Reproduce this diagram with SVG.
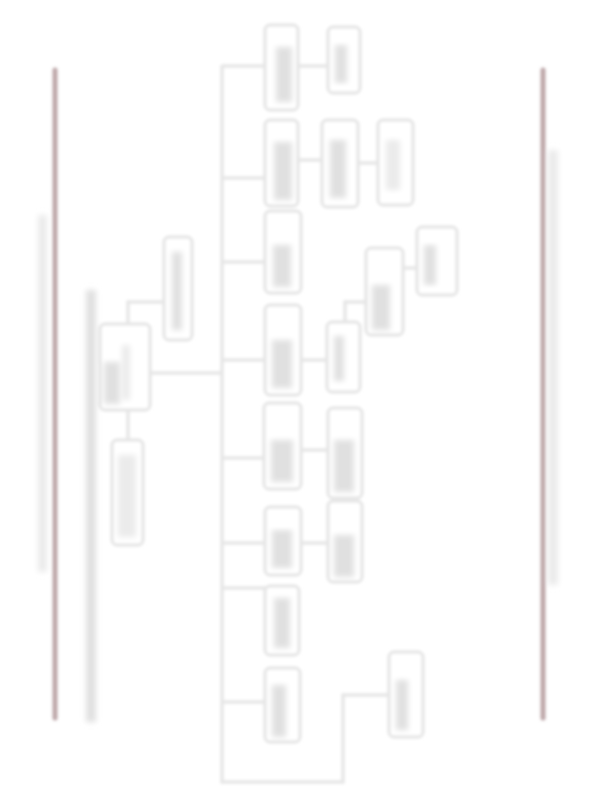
<svg xmlns="http://www.w3.org/2000/svg" width="612" height="792" viewBox="0 0 612 792">
<defs>
<filter id="bl" x="-20%" y="-20%" width="140%" height="140%"><feGaussianBlur stdDeviation="1.4"/></filter>
<filter id="bl2" x="-50%" y="-5%" width="200%" height="110%"><feGaussianBlur stdDeviation="2.5"/></filter>
</defs>
<style>
.box{fill:#ffffff;stroke:#e4e4e4;stroke-width:3}
.sm{fill:#e0e0e0}
.sml{fill:#ebebeb}
.con{fill:none;stroke:#e6e6e6;stroke-width:3.5}
.rule{stroke:#bea7a9;stroke-width:5;stroke-linecap:round}
</style>
<rect width="612" height="792" fill="#ffffff"/>
<g filter="url(#bl)">
<g id="frame">
<line class="rule" x1="55" y1="70" x2="55" y2="718"/>
<line class="rule" x1="543" y1="70" x2="543" y2="718"/>
<rect class="sml" x="38" y="215" width="9" height="357" filter="url(#bl2)"/>
<rect class="sm" x="86" y="290" width="10" height="432" filter="url(#bl2)"/>
<rect class="sml" x="548" y="150" width="10" height="435" filter="url(#bl2)"/>
</g>
<g id="connectors">
<polyline class="con" points="128,325 128,302 163,302"/>
<line class="con" x1="128" y1="410" x2="128" y2="440"/>
<line class="con" x1="150" y1="373" x2="222" y2="373"/>
<polyline class="con" points="222,65 222,782 343,782 343,695 390,695"/>
<line class="con" x1="222" y1="66" x2="265" y2="66"/>
<line class="con" x1="222" y1="178" x2="265" y2="178"/>
<line class="con" x1="222" y1="262" x2="265" y2="262"/>
<line class="con" x1="222" y1="360" x2="265" y2="360"/>
<line class="con" x1="222" y1="458" x2="265" y2="458"/>
<line class="con" x1="222" y1="543" x2="265" y2="543"/>
<line class="con" x1="222" y1="588" x2="265" y2="588"/>
<line class="con" x1="222" y1="702" x2="265" y2="702"/>
<line class="con" x1="299" y1="66" x2="327" y2="66"/>
<line class="con" x1="299" y1="160" x2="322" y2="160"/>
<line class="con" x1="358" y1="163" x2="378" y2="163"/>
<line class="con" x1="301" y1="360" x2="327" y2="360"/>
<polyline class="con" points="345,322 345,302 366,302"/>
<line class="con" x1="403" y1="268" x2="417" y2="268"/>
<line class="con" x1="301" y1="450" x2="328" y2="450"/>
<line class="con" x1="301" y1="543" x2="328" y2="543"/>
</g>
<g id="root"><rect class="box" x="100" y="324" width="50" height="86" rx="5"/><rect class="sm" x="104" y="362" width="16" height="42" filter="url(#bl2)"/><rect class="sml" x="122" y="345" width="8" height="55" filter="url(#bl2)"/></g>
<g id="n_up"><rect class="box" x="164" y="237" width="28" height="103" rx="5"/><rect class="sm" x="172" y="252" width="10" height="78" filter="url(#bl2)"/></g>
<g id="n_down"><rect class="box" x="112" y="440" width="31" height="105" rx="5"/><rect class="sml" x="118" y="455" width="18" height="82" filter="url(#bl2)"/></g>
<g id="A"><rect class="box" x="265" y="25" width="33" height="85" rx="5"/><rect class="sm" x="276" y="47" width="16" height="55" filter="url(#bl2)"/></g>
<g id="A1"><rect class="box" x="328" y="27" width="32" height="66" rx="5"/><rect class="sm" x="335" y="45" width="12" height="38" filter="url(#bl2)"/></g>
<g id="B"><rect class="box" x="265" y="120" width="33" height="86" rx="5"/><rect class="sm" x="274" y="142" width="18" height="58" filter="url(#bl2)"/></g>
<g id="B1"><rect class="box" x="322" y="120" width="36" height="87" rx="5"/><rect class="sm" x="330" y="140" width="16" height="58" filter="url(#bl2)"/></g>
<g id="B2"><rect class="box" x="378" y="120" width="35" height="85" rx="5"/><rect class="sml" x="386" y="140" width="14" height="50" filter="url(#bl2)"/></g>
<g id="C"><rect class="box" x="265" y="211" width="36" height="82" rx="5"/><rect class="sm" x="273" y="245" width="18" height="42" filter="url(#bl2)"/></g>
<g id="D"><rect class="box" x="265" y="305" width="36" height="90" rx="5"/><rect class="sm" x="272" y="340" width="20" height="48" filter="url(#bl2)"/></g>
<g id="D1"><rect class="box" x="327" y="322" width="33" height="70" rx="5"/><rect class="sm" x="334" y="336" width="10" height="45" filter="url(#bl2)"/></g>
<g id="D2"><rect class="box" x="366" y="248" width="37" height="87" rx="5"/><rect class="sm" x="372" y="285" width="18" height="45" filter="url(#bl2)"/></g>
<g id="D3"><rect class="box" x="417" y="227" width="40" height="68" rx="5"/><rect class="sm" x="424" y="245" width="12" height="40" filter="url(#bl2)"/></g>
<g id="E"><rect class="box" x="264" y="403" width="37" height="86" rx="5"/><rect class="sm" x="271" y="440" width="22" height="42" filter="url(#bl2)"/></g>
<g id="E1"><rect class="box" x="328" y="408" width="34" height="90" rx="5"/><rect class="sm" x="334" y="440" width="20" height="52" filter="url(#bl2)"/></g>
<g id="F"><rect class="box" x="265" y="507" width="36" height="68" rx="5"/><rect class="sm" x="272" y="530" width="20" height="38" filter="url(#bl2)"/></g>
<g id="F1"><rect class="box" x="328" y="501" width="34" height="81" rx="5"/><rect class="sm" x="334" y="535" width="20" height="42" filter="url(#bl2)"/></g>
<g id="G"><rect class="box" x="265" y="586" width="34" height="69" rx="5"/><rect class="sm" x="274" y="598" width="16" height="50" filter="url(#bl2)"/></g>
<g id="H"><rect class="box" x="265" y="668" width="35" height="74" rx="5"/><rect class="sm" x="272" y="685" width="14" height="52" filter="url(#bl2)"/></g>
<g id="I"><rect class="box" x="389" y="652" width="34" height="85" rx="5"/><rect class="sm" x="396" y="680" width="12" height="50" filter="url(#bl2)"/></g>
</g>
</svg>
